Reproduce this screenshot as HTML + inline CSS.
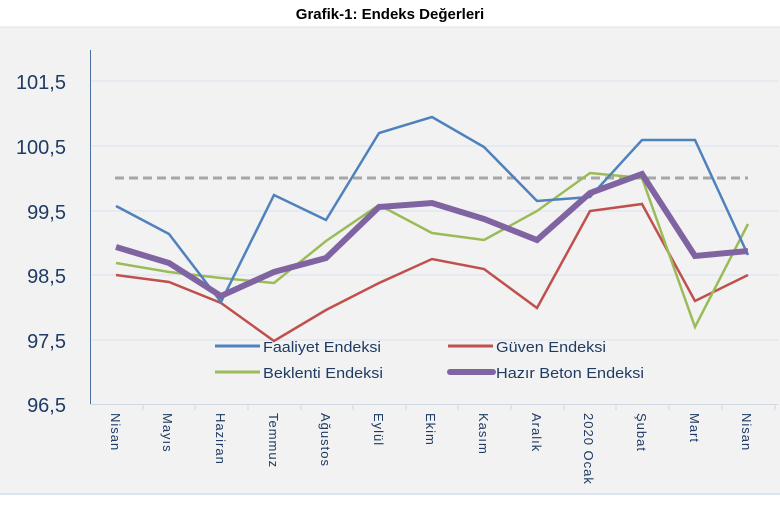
<!DOCTYPE html>
<html><head><meta charset="utf-8"><style>
body{margin:0;background:#fff;width:780px;height:504px;overflow:hidden;font-family:"Liberation Sans",sans-serif}
</style></head><body>
<svg width="780" height="504" xmlns="http://www.w3.org/2000/svg" font-family="Liberation Sans, sans-serif">
<rect x="0" y="0" width="780" height="504" fill="#fff"/>
<rect x="0" y="27" width="780" height="468" fill="#f2f2f2"/>
<line x1="0" y1="27" x2="780" y2="27" stroke="#dde3ea"/>
<line x1="0" y1="494" x2="780" y2="494" stroke="#dbe5f1" stroke-width="2"/>
<text x="390" y="19" text-anchor="middle" font-size="15" font-weight="bold" fill="#000">Grafik-1: Endeks Değerleri</text>
<g stroke="#d6e2ef" stroke-width="1">
<line x1="90" y1="81" x2="778" y2="81"/><line x1="90" y1="146" x2="778" y2="146"/>
<line x1="90" y1="211" x2="778" y2="211"/><line x1="90" y1="275" x2="778" y2="275"/>
<line x1="90" y1="340" x2="778" y2="340"/>
</g>
<line x1="90.5" y1="50" x2="90.5" y2="405" stroke="#4a6fa0"/>
<line x1="90" y1="404.5" x2="778" y2="404.5" stroke="#d0d8e2"/>
<g stroke="#d0d8e2">
<line x1="143" y1="404" x2="143" y2="410"/><line x1="195" y1="404" x2="195" y2="410"/><line x1="248" y1="404" x2="248" y2="410"/><line x1="301" y1="404" x2="301" y2="410"/><line x1="353" y1="404" x2="353" y2="410"/><line x1="406" y1="404" x2="406" y2="410"/><line x1="458" y1="404" x2="458" y2="410"/><line x1="511" y1="404" x2="511" y2="410"/><line x1="564" y1="404" x2="564" y2="410"/><line x1="616" y1="404" x2="616" y2="410"/><line x1="669" y1="404" x2="669" y2="410"/><line x1="722" y1="404" x2="722" y2="410"/><line x1="775" y1="404" x2="775" y2="410"/>
</g>
<g font-size="20" fill="#1f3b63" text-anchor="end">
<text x="66" y="89">101,5</text><text x="66" y="154">100,5</text><text x="66" y="219">99,5</text>
<text x="66" y="283">98,5</text><text x="66" y="348">97,5</text><text x="66" y="412">96,5</text>
</g>
<g font-size="13" fill="#1f3b63" letter-spacing="1">
<text transform="translate(111,413) rotate(90)">Nisan</text>
<text transform="translate(163,413) rotate(90)">Mayıs</text>
<text transform="translate(216,413) rotate(90)">Haziran</text>
<text transform="translate(269,413) rotate(90)">Temmuz</text>
<text transform="translate(321,413) rotate(90)">Ağustos</text>
<text transform="translate(374,413) rotate(90)">Eylül</text>
<text transform="translate(426,413) rotate(90)">Ekim</text>
<text transform="translate(479,413) rotate(90)">Kasım</text>
<text transform="translate(532,413) rotate(90)">Aralık</text>
<text transform="translate(584,413) rotate(90)">2020 Ocak</text>
<text transform="translate(637,413) rotate(90)">Şubat</text>
<text transform="translate(690,413) rotate(90)">Mart</text>
<text transform="translate(742,413) rotate(90)">Nisan</text>
</g>
<line x1="115" y1="178" x2="748" y2="178" stroke="#a6a6a6" stroke-width="3" stroke-dasharray="9,5"/>
<g fill="none" stroke-linejoin="miter">
<polyline stroke="#c0504d" stroke-width="2.5" points="116,275 169,282 221,303 274,341 326,310 379,283 432,259 484,269 537,308 590,211 642,204 695,301 748,275"/>
<polyline stroke="#9bbb59" stroke-width="2.5" points="116,263 169,272 221,278 274,283 326,241 379,205 432,233 484,240 537,211 590,173 642,178 695,327 748,224"/>
<polyline stroke="#4f81bd" stroke-width="2.5" points="116,206 169,234 221,302 274,195 326,220 379,133 432,117 484,147 537,201 590,197 642,140 695,140 748,255"/>
<polyline stroke="#8064a2" stroke-width="6" points="116,247 169,263 221,296 274,272 326,258 379,207 432,203 484,219 537,240 590,193 642,174 695,256 748,251"/>
</g>
<g font-size="15" fill="#1f3b63">
<line x1="215" y1="346" x2="260" y2="346" stroke="#4f81bd" stroke-width="3"/><text x="263" y="352" textLength="118" lengthAdjust="spacingAndGlyphs">Faaliyet Endeksi</text>
<line x1="448" y1="346" x2="493" y2="346" stroke="#c0504d" stroke-width="3"/><text x="496" y="352" textLength="110" lengthAdjust="spacingAndGlyphs">Güven Endeksi</text>
<line x1="215" y1="372" x2="260" y2="372" stroke="#9bbb59" stroke-width="3"/><text x="263" y="378" textLength="120" lengthAdjust="spacingAndGlyphs">Beklenti Endeksi</text>
<line x1="450" y1="372" x2="493" y2="372" stroke="#8064a2" stroke-width="6" stroke-linecap="round"/><text x="496" y="378" textLength="148" lengthAdjust="spacingAndGlyphs">Hazır Beton Endeksi</text>
</g>
</svg>
</body></html>
